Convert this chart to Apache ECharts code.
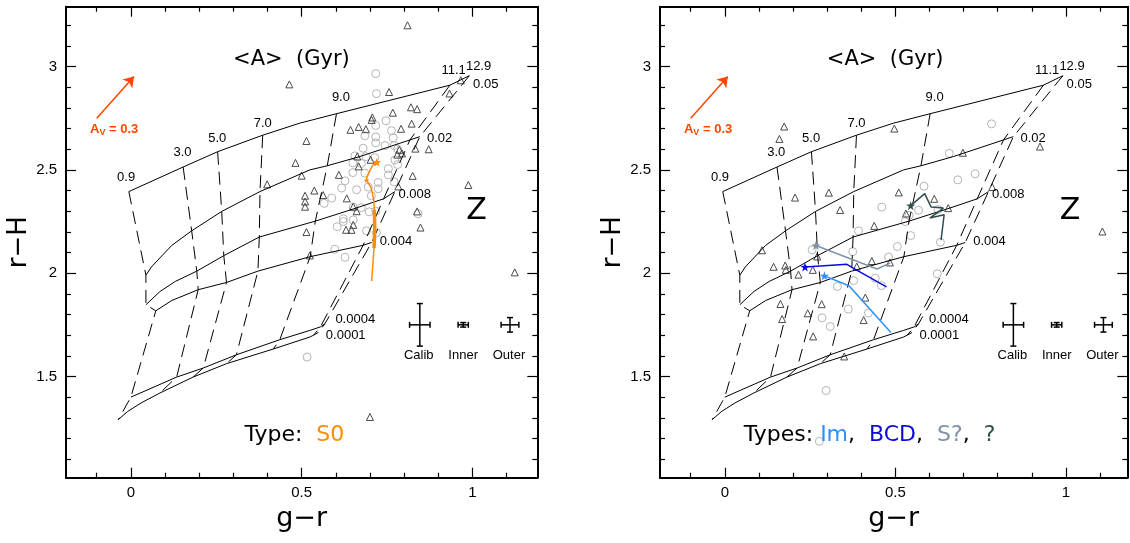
<!DOCTYPE html>
<html>
<head>
<meta charset="utf-8">
<script src="https://cdn.jsdelivr.net/npm/echarts@6/dist/echarts.min.js"></script>
<style>
  html, body { margin: 0; padding: 0; background: #fff; }
  #chart { width: 1130px; height: 543px; }
</style>
</head>
<body>
<div id="chart"></div>
<script>
// ---- axes ----
const xMajor = [0, 0.5, 1];
const xMinor = [-0.1, 0.1, 0.2, 0.3, 0.4, 0.6, 0.7, 0.8, 0.9, 1.1];
const yMajor = [1.5, 2, 2.5, 3];
const yMinor = [1.1, 1.2, 1.3, 1.4, 1.6, 1.7, 1.8, 1.9, 2.1, 2.2, 2.3, 2.4, 2.6, 2.7, 2.8, 2.9, 3.1, 3.2];

// ---- model grid: colour at each (Z, age) node, columns follow `ages` ----
const ages = ['0.9', '3.0', '5.0', '7.0', '9.0', '11.1', '12.9'];
const metallicities = ['0.05', '0.02', '0.008', '0.004', '0.0004', '0.0001'];
const nodeZ05   = [[-0.006, 2.395], [0.153, 2.514], [0.254, 2.588], [0.386, 2.668], [0.602, 2.772], [0.934, 2.910], [0.991, 2.956]];
const nodeZ02   = [[0.044, 1.990], [0.178, 2.205], [0.266, 2.299], [0.378, 2.395], [0.575, 2.520], [0.817, 2.645], [0.846, 2.661]];
const nodeZ008  = [[0.044, 1.847], [0.193, 2.010], [0.272, 2.085], [0.376, 2.175], [0.540, 2.252], [0.740, 2.360], [0.773, 2.395]];
const nodeZ004  = [[0.073, 1.818], [0.197, 1.920], [0.280, 1.955], [0.372, 2.010], [0.525, 2.080], [0.680, 2.135], [0.705, 2.149]];
const nodeZ0004 = [[0.000, 1.400], [0.134, 1.497], [0.212, 1.541], [0.309, 1.605], [0.436, 1.678], [0.555, 1.740], [0.568, 1.755]];
const nodeZ0001 = [[-0.037, 1.291], [0.085, 1.420], [0.182, 1.497], [0.280, 1.562], [0.417, 1.633], [0.535, 1.700], [0.549, 1.713]];
const modelNodes = [nodeZ05, nodeZ02, nodeZ008, nodeZ004, nodeZ0004, nodeZ0001];

// constant-Z tracks, including the bends between age nodes
const trackZ05   = [[-0.006, 2.395], [0.153, 2.514], [0.254, 2.588], [0.386, 2.668], [0.494, 2.726], [0.602, 2.772], [0.934, 2.910], [0.991, 2.956]];
const trackZ02   = [[0.044, 1.990], [0.060, 2.030], [0.085, 2.074], [0.120, 2.135], [0.178, 2.205], [0.266, 2.299], [0.378, 2.395], [0.524, 2.500], [0.575, 2.520], [0.671, 2.565], [0.817, 2.645], [0.846, 2.661]];
const trackZ008  = [[0.044, 1.847], [0.085, 1.911], [0.130, 1.960], [0.193, 2.010], [0.272, 2.085], [0.376, 2.175], [0.540, 2.252], [0.650, 2.310], [0.740, 2.360], [0.773, 2.395]];
const trackZ004  = [[0.073, 1.818], [0.120, 1.868], [0.197, 1.920], [0.280, 1.955], [0.372, 2.010], [0.525, 2.080], [0.680, 2.135], [0.705, 2.149]];
const trackZ0004 = [[0.000, 1.400], [0.134, 1.497], [0.212, 1.541], [0.309, 1.605], [0.436, 1.678], [0.524, 1.723], [0.555, 1.740], [0.568, 1.755]];
const trackZ0001 = [[-0.037, 1.291], [-0.010, 1.330], [0.030, 1.372], [0.085, 1.420], [0.182, 1.497], [0.280, 1.562], [0.417, 1.633], [0.524, 1.691], [0.535, 1.700], [0.549, 1.713]];
const zTracks = [trackZ05, trackZ02, trackZ008, trackZ004, trackZ0004, trackZ0001];

// grid annotations: [g-r, r-H, text]
const ageLabels = [[-0.014, 2.465, '0.9'], [0.151, 2.586, '3.0'], [0.253, 2.654, '5.0'], [0.386, 2.724, '7.0'], [0.615, 2.853, '9.0'], [0.945, 2.982, '11.1'], [1.018, 3.003, '12.9']];
const zLabels = [[1.039, 2.913, '0.05'], [0.904, 2.652, '0.02'], [0.831, 2.382, '0.008'], [0.776, 2.155, '0.004'], [0.657, 1.775, '0.0004'], [0.629, 1.698, '0.0001']];
const errLabels = [[0.843, 1.602, 'Calib'], [0.973, 1.602, 'Inner'], [1.107, 1.602, 'Outer']];

// typical uncertainties: [g-r, r-H, err(g-r), err(r-H)]
const errBars = [[0.846, 1.750, 0.030, 0.103], [0.973, 1.750, 0.015, 0.011], [1.110, 1.750, 0.026, 0.035]];

// reddening vector, A_V = 0.3
const reddening = [[-0.100, 2.750], [0.009, 2.952]];

// ---- S0 sample ----
const s0Disks = [[0.717,2.966],[0.719,2.869],[0.747,2.738],[0.717,2.715],[0.763,2.690],[0.685,2.665],[0.717,2.660],[0.768,2.655],[0.717,2.631],[0.744,2.618],[0.771,2.618],[0.680,2.605],[0.781,2.601],[0.656,2.568],[0.688,2.564],[0.714,2.559],[0.773,2.548],[0.650,2.534],[0.675,2.531],[0.754,2.506],[0.781,2.526],[0.650,2.487],[0.685,2.484],[0.724,2.439],[0.754,2.476],[0.771,2.442],[0.627,2.447],[0.617,2.412],[0.661,2.404],[0.695,2.417],[0.724,2.409],[0.588,2.364],[0.566,2.338],[0.704,2.375],[0.675,2.317],[0.651,2.320],[0.698,2.297],[0.717,2.300],[0.841,2.288],[0.622,2.263],[0.622,2.250],[0.651,2.258],[0.604,2.225],[0.690,2.205],[0.719,2.196],[0.597,2.116],[0.627,2.077],[0.516,1.594]];
const s0Bulges = [[0.810,3.200],[0.464,2.914],[0.756,2.877],[0.966,2.934],[0.933,2.870],[0.767,2.777],[0.820,2.803],[0.838,2.794],[0.707,2.754],[0.705,2.742],[0.643,2.694],[0.667,2.708],[0.688,2.697],[0.822,2.724],[0.791,2.699],[0.514,2.640],[0.833,2.603],[0.872,2.600],[0.786,2.597],[0.780,2.574],[0.794,2.580],[0.482,2.534],[0.663,2.565],[0.667,2.517],[0.702,2.549],[0.500,2.472],[0.609,2.476],[0.399,2.430],[0.825,2.471],[0.988,2.427],[0.510,2.375],[0.510,2.347],[0.510,2.322],[0.537,2.400],[0.563,2.378],[0.632,2.362],[0.651,2.322],[0.661,2.300],[0.783,2.420],[0.838,2.299],[0.848,2.221],[0.514,2.199],[0.630,2.210],[0.646,2.210],[0.651,2.234],[0.524,2.086],[1.124,2.004],[0.700,1.304]];
const s0Profile = [[0.720,2.537],[0.707,2.520],[0.692,2.470],[0.690,2.450],[0.704,2.412],[0.711,2.355],[0.713,2.307],[0.712,2.122],[0.705,1.962]];
const s0ProfileDense = [[0.713,2.307],[0.714,2.215],[0.712,2.122]];

// ---- late-type sample ----
const lateDisks = [[0.782,2.723],[0.658,2.580],[0.734,2.481],[0.683,2.452],[0.584,2.421],[0.460,2.320],[0.568,2.305],[0.625,2.308],[0.540,2.280],[0.529,2.250],[0.545,2.182],[0.392,2.205],[0.506,2.129],[0.632,2.150],[0.256,2.113],[0.375,2.104],[0.480,2.078],[0.441,1.976],[0.459,1.940],[0.378,1.964],[0.330,1.936],[0.623,1.997],[0.362,1.826],[0.421,1.807],[0.285,1.784],[0.309,1.742],[0.297,1.432],[0.277,1.186]];
const lateBulges = [[0.174,2.710],[0.160,2.650],[0.497,2.700],[0.206,2.366],[0.305,2.390],[0.510,2.391],[0.614,2.360],[0.338,2.306],[0.655,2.315],[0.531,2.289],[0.438,2.229],[0.109,2.111],[0.271,2.081],[0.431,2.059],[0.484,2.052],[0.143,2.031],[0.177,2.037],[0.179,2.016],[0.216,1.993],[0.258,2.016],[0.387,2.032],[0.412,1.882],[0.163,1.851],[0.284,1.850],[0.168,1.778],[0.243,1.806],[0.407,1.773],[0.259,1.694],[0.350,1.597],[0.698,2.583],[0.924,2.613],[0.784,2.417],[1.107,2.202]];
const imProfile  = [[0.292,1.987],[0.364,1.939],[0.487,1.713]];
const bcdProfile = [[0.235,2.030],[0.358,2.043],[0.375,2.026],[0.474,1.934]];
const sqProfile  = [[0.267,2.134],[0.446,2.020],[0.485,2.049]];
const qProfile   = [[0.545,2.327],[0.586,2.385],[0.605,2.320],[0.641,2.315],[0.601,2.267],[0.643,2.283],[0.634,2.160]];

// ---- styling ----
const C_S0 = '#ff8c00', C_IM = '#2b8fff', C_BCD = '#0a0ae0', C_SQ = '#7f93a8', C_Q = '#2f4f4f', C_AV = '#ff4500';
const NUM_FONT = 'Liberation Sans';
const TXT_FONT = 'DejaVu Sans';
const STAR = 'path://M0,-10L2.35,-3.24L9.51,-3.09L3.8,1.24L5.88,8.09L0,4L-5.88,8.09L-3.8,1.24L-9.51,-3.09L-2.35,-3.24Z';

const X_MIN = -0.19, Y_MIN = 1.01, Y_MAX = 3.29;
const panels = [
  { grid: { left: 66, top: 6.7, width: 471.3, height: 471 }, xMax: 1.19 },
  { grid: { left: 660, top: 6.7, width: 467.3, height: 471 }, xMax: 1.18 }
];

function tick(len, values) {
  return { show: true, inside: true, length: len, customValues: values, lineStyle: { color: '#000', width: 1.2 } };
}
function frameLine() {
  return { show: true, onZero: false, lineStyle: { color: '#000', width: 2 } };
}

function xAxesFor(gi, max) {
  const base = { type: 'value', gridIndex: gi, min: X_MIN, max: max, splitLine: { show: false },
    axisLine: { show: false, onZero: false }, axisLabel: { show: false }, axisTick: { show: false } };
  return [
    Object.assign({}, base, { position: 'bottom', axisLine: frameLine(), axisTick: tick(10, xMajor),
      axisLabel: { show: true, customValues: xMajor, margin: 8, fontSize: 15, color: '#000', fontFamily: NUM_FONT, formatter: v => String(v) },
      name: 'g\u2212r', nameLocation: 'middle', nameGap: 26,
      nameTextStyle: { fontSize: 27, fontFamily: TXT_FONT, color: '#000' } }),
    Object.assign({}, base, { position: 'bottom', axisTick: tick(5, xMinor) }),
    Object.assign({}, base, { position: 'top', axisLine: frameLine(), axisTick: tick(10, xMajor) }),
    Object.assign({}, base, { position: 'top', axisTick: tick(5, xMinor) })
  ];
}
function yAxesFor(gi) {
  const base = { type: 'value', gridIndex: gi, min: Y_MIN, max: Y_MAX, splitLine: { show: false },
    axisLine: { show: false, onZero: false }, axisLabel: { show: false }, axisTick: { show: false } };
  return [
    Object.assign({}, base, { position: 'left', axisLine: frameLine(), axisTick: tick(10, yMajor),
      axisLabel: { show: true, customValues: yMajor, margin: 9, fontSize: 15, color: '#000', fontFamily: NUM_FONT, formatter: v => String(v) },
      name: 'r\u2212H', nameLocation: 'middle', nameGap: 27, nameRotate: 90,
      nameTextStyle: { fontSize: 26, fontFamily: TXT_FONT, color: '#000' } }),
    Object.assign({}, base, { position: 'left', axisTick: tick(5, yMinor) }),
    Object.assign({}, base, { position: 'right', axisLine: frameLine(), axisTick: tick(10, yMajor) }),
    Object.assign({}, base, { position: 'right', axisTick: tick(5, yMinor) })
  ];
}

function textSeries(idx, rows, style) {
  return {
    type: 'scatter', xAxisIndex: idx, yAxisIndex: idx, silent: true, z: 6,
    symbol: 'circle', symbolSize: 1, itemStyle: { color: 'rgba(0,0,0,0)', opacity: 1 },
    data: rows.map(r => ({ value: [r[0], r[1]], name: r[2] })),
    label: Object.assign({ show: true, position: 'inside', formatter: '{b}', color: '#000', textBorderWidth: 0,
      fontFamily: NUM_FONT, fontSize: 13 }, style)
  };
}

function profileSeries(idx, pts, color, width) {
  return { type: 'line', xAxisIndex: idx, yAxisIndex: idx, data: pts, symbol: 'none', silent: true, z: 5,
    lineStyle: { color: color, width: width } };
}
function starSeries(idx, pt, color, size) {
  return { type: 'scatter', xAxisIndex: idx, yAxisIndex: idx, data: [pt], symbol: STAR, symbolSize: size, silent: true, z: 6,
    itemStyle: { color: color, opacity: 1 } };
}

function panelSeries(p, disks, bulges) {
  const idx = p * 4;
  const s = [];
  // constant-metallicity tracks
  zTracks.forEach(tr => s.push({ type: 'line', xAxisIndex: idx, yAxisIndex: idx, data: tr, symbol: 'none', silent: true, z: 3,
    lineStyle: { color: '#000', width: 1 } }));
  // isochrones (constant age), drawn through every metallicity node
  ages.forEach((a, j) => s.push({ type: 'line', xAxisIndex: idx, yAxisIndex: idx, data: modelNodes.map(row => row[j]),
    symbol: 'none', silent: true, z: 3, lineStyle: { color: '#000', width: 1, type: [13, 7] } }));
  // galaxies
  s.push({ type: 'scatter', xAxisIndex: idx, yAxisIndex: idx, data: disks, symbol: 'circle', symbolSize: 8, silent: true, z: 2,
    itemStyle: { color: 'rgba(0,0,0,0)', borderColor: '#b5b5b5', borderWidth: 1, opacity: 1 } });
  s.push({ type: 'scatter', xAxisIndex: idx, yAxisIndex: idx, data: bulges, symbol: 'triangle', symbolSize: 7, silent: true, z: 2,
    itemStyle: { color: 'rgba(0,0,0,0)', borderColor: '#4a4a4a', borderWidth: 1, opacity: 1 } });
  // uncertainty crosses
  s.push({ type: 'custom', xAxisIndex: idx, yAxisIndex: idx, data: errBars, silent: true, z: 6,
    renderItem: (params, api) => {
      const x = api.value(0), y = api.value(1), ex = api.value(2), ey = api.value(3);
      const l = api.coord([x - ex, y]), r = api.coord([x + ex, y]);
      const t = api.coord([x, y + ey]), b = api.coord([x, y - ey]);
      const cap = 3;
      const st = { stroke: '#000', lineWidth: 1.5 };
      const seg = (x1, y1, x2, y2) => ({ type: 'line', shape: { x1, y1, x2, y2 }, style: st });
      return { type: 'group', children: [
        seg(l[0], l[1], r[0], r[1]), seg(t[0], t[1], b[0], b[1]),
        seg(l[0], l[1] - cap, l[0], l[1] + cap), seg(r[0], r[1] - cap, r[0], r[1] + cap),
        seg(t[0] - cap, t[1], t[0] + cap, t[1]), seg(b[0] - cap, b[1], b[0] + cap, b[1])
      ] };
    } });
  // labels
  s.push(textSeries(idx, ageLabels, {}));
  s.push(textSeries(idx, zLabels, {}));
  s.push(textSeries(idx, errLabels, {}));
  s.push(textSeries(idx, [[0.470, 3.032, '<A>  (Gyr)']], { fontFamily: TXT_FONT, fontSize: 21 }));
  s.push(textSeries(idx, [[1.012, 2.298, 'Z']], { fontFamily: TXT_FONT, fontSize: 30 }));
  const av = textSeries(idx, [[-0.049, 2.698, 'A']], {
    formatter: '{a|A}{s|V}{a| = 0.3}',
    rich: {
      a: { fontSize: 13, fontWeight: 'bold', color: C_AV, fontFamily: NUM_FONT, lineHeight: 16, verticalAlign: 'middle' },
      s: { fontSize: 9, fontWeight: 'bold', color: C_AV, fontFamily: NUM_FONT, lineHeight: 16, verticalAlign: 'bottom', padding: [7, 0, 0, 0] }
    }
  });
  av.markLine = { silent: true, animation: false, symbol: ['none', 'arrow'], symbolSize: 10,
    lineStyle: { color: C_AV, width: 1.5, type: 'solid' }, label: { show: false }, emphasis: { disabled: true },
    data: [[{ coord: reddening[0] }, { coord: reddening[1] }]] };
  s.push(av);
  return s;
}

const series = [];
series.push(...panelSeries(0, s0Disks, s0Bulges));
series.push(profileSeries(0, s0Profile, C_S0, 1.5));
series.push(profileSeries(0, s0ProfileDense, C_S0, 3.5));
series.push(starSeries(0, s0Profile[0], C_S0, 9));
series.push(starSeries(0, s0Profile[3], C_S0, 6));
series.push(textSeries(0, [[0.331, 1.216, 'Type']], {
  position: 'right', distance: 0,
  formatter: '{t|Type:  }{s|S0}',
  rich: { t: { fontSize: 22, fontFamily: TXT_FONT, color: '#000' }, s: { fontSize: 22, fontFamily: TXT_FONT, color: C_S0 } }
}));

series.push(...panelSeries(1, lateDisks, lateBulges));
[[imProfile, C_IM], [bcdProfile, C_BCD], [sqProfile, C_SQ], [qProfile, C_Q]].forEach(([pts, c]) => {
  series.push(profileSeries(4, pts, c, 1.5));
  series.push(starSeries(4, pts[0], c, 9));
});
series.push(textSeries(4, [[0.054, 1.216, 'Types']], {
  position: 'right', distance: 0,
  formatter: '{t|Types: }{im|Im}{t|,  }{bcd|BCD}{t|,  }{sq|S?}{t|,  }{q|?}',
  rich: {
    t: { fontSize: 22, fontFamily: TXT_FONT, color: '#000' },
    im: { fontSize: 22, fontFamily: TXT_FONT, color: C_IM },
    bcd: { fontSize: 22, fontFamily: TXT_FONT, color: C_BCD },
    sq: { fontSize: 22, fontFamily: TXT_FONT, color: C_SQ },
    q: { fontSize: 22, fontFamily: TXT_FONT, color: C_Q }
  }
}));

const chart = echarts.init(document.getElementById('chart'), null, { renderer: 'canvas' });
chart.setOption({
  animation: false,
  backgroundColor: '#fff',
  grid: panels.map(p => p.grid),
  xAxis: [...xAxesFor(0, panels[0].xMax), ...xAxesFor(1, panels[1].xMax)],
  yAxis: [...yAxesFor(0), ...yAxesFor(1)],
  series: series
});
</script>
</body>
</html>
